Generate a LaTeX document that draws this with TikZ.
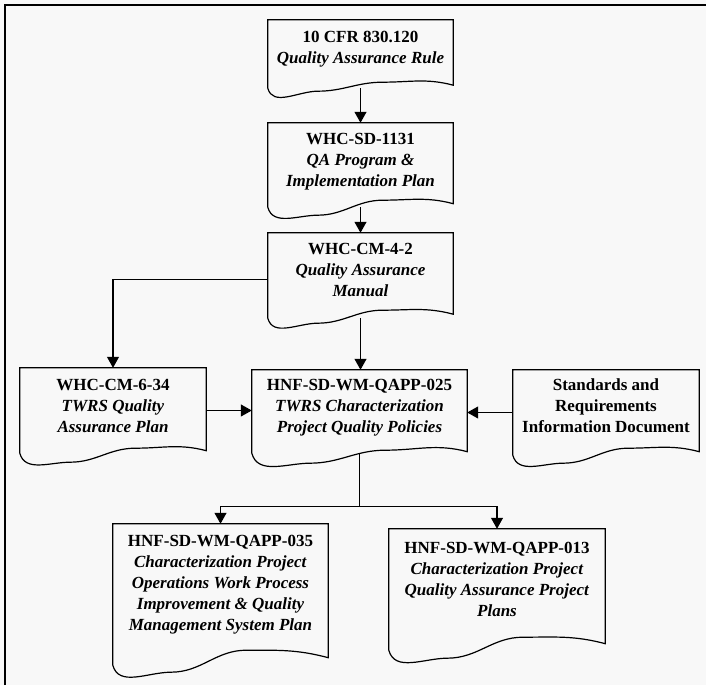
\documentclass[tikz,border=0pt]{standalone}
\usepackage{fontspec}
\setmainfont{Liberation Serif}
\usetikzlibrary{positioning,calc,arrows.meta}
\definecolor{paper}{RGB}{248,248,248}

\begin{document}
\begin{tikzpicture}[x=1pt,y=1pt,
  docarea/.style={draw=none, inner sep=0pt},
  doctext/.style={inner sep=0pt, align=center, font=\fontsize{17}{21}\selectfont\bfseries},
  flow/.style={line width=1.1pt, -{Triangle[width=12pt,length=11pt]}},
  docline/.style={line width=1.2pt, fill=paper}]

\fill[paper] (0,0) rectangle (706,685);
\useasboundingbox (0,0) rectangle (706,685);

% page frame, only the top and the left edge show
\draw[line width=1.4pt] (5,0) -- (5,680) -- (706,680);

% document areas: top edge down to where the wavy bottom starts
\node[docarea, minimum width=185pt, minimum height=68pt] (cfr)  at (360.5,631)   {};
\node[docarea, minimum width=185pt, minimum height=84pt] (sd)   at (360.5,520)   {};
\node[docarea, minimum width=185pt, minimum height=85pt] (cm)   at (360.5,409.5) {};
\node[docarea, minimum width=186pt, minimum height=85pt] (twrs) at (113,274.5)   {};
\node[docarea, minimum width=215pt, minimum height=83pt] (q25)  at (359.5,273.5) {};
\node[docarea, minimum width=186pt, minimum height=85pt] (std)  at (606,272.5)   {};
\node[docarea, minimum width=215pt, minimum height=141pt] (q35) at (220.5,90.5)  {};
\node[docarea, minimum width=216pt, minimum height=121pt] (q13) at (497,95.5)    {};

% connectors
\draw[flow] (cfr.south) -- (sd.north);
\draw[flow] (sd.south) -- (cm.north);
\draw[flow] ($(cm.west)+(0,-4)$) -| (twrs.north);
\draw[flow] (cm.south) -- (cm.south |- q25.north);
\draw[flow] (twrs.east) -- (twrs.east -| q25.west);
\draw[flow] (std.west) -- (std.west -| q25.east);
\coordinate (fork) at ($(q25.south)+(0,-53)$);
\draw[line width=1.1pt] (q25.south) -- (fork);
\draw[flow] (fork) -| (q35.north);
\draw[flow] (fork) -| (q13.north);

% document outlines with the wavy bottom edge
\foreach \n/\dn/\up in {cfr/3/6, sd/8/7, cm/5/8, twrs/9/5, q25/10/3, std/8/7, q35/7/15, q13/8/13} {
  \draw[docline] (\n.north west) -- (\n.north east)
    -- ($(\n.south east)+(0,\up/2)$)
    to[out=165,in=0] ($(\n.south west)!0.62!(\n.south east)+(0,\up)$)
    to[out=180,in=0] ($(\n.south west)!0.27!(\n.south east)+(0,-\dn)$)
    to[out=180,in=-75] (\n.south west) -- cycle;
}

% texts
\node[doctext, below=11pt of cfr.north] (cfr-t) {10 CFR 830.120\\ \textit{Quality Assurance Rule}};
\node[doctext, below=10pt of sd.north] (sd-t) {WHC-SD-1131\\ \textit{QA Program \&}\\ \textit{Implementation Plan}};
\node[doctext, below=10pt of cm.north] (cm-t) {WHC-CM-4-2\\ \textit{Quality Assurance}\\ \textit{Manual}};
\node[doctext, below=11pt of twrs.north] (twrs-t) {WHC-CM-6-34\\ \textit{TWRS Quality}\\ \textit{Assurance Plan}};
\node[doctext, below=9pt of q25.north] (q25-t) {HNF-SD-WM-QAPP-025\\ \textit{TWRS Characterization}\\ \textit{Project Quality Policies}};
\node[doctext, below=9pt of std.north] (std-t) {Standards and\\ Requirements\\ Information Document};
\node[doctext, below=11pt of q35.north] (q35-t) {HNF-SD-WM-QAPP-035\\ \textit{Characterization Project}\\ \textit{Operations Work Process}\\ \textit{Improvement \& Quality}\\ \textit{Management System Plan}};
\node[doctext, below=13pt of q13.north] (q13-t) {HNF-SD-WM-QAPP-013\\ \textit{Characterization Project}\\ \textit{Quality Assurance Project}\\ \textit{Plans}};

\end{tikzpicture}
\end{document}
